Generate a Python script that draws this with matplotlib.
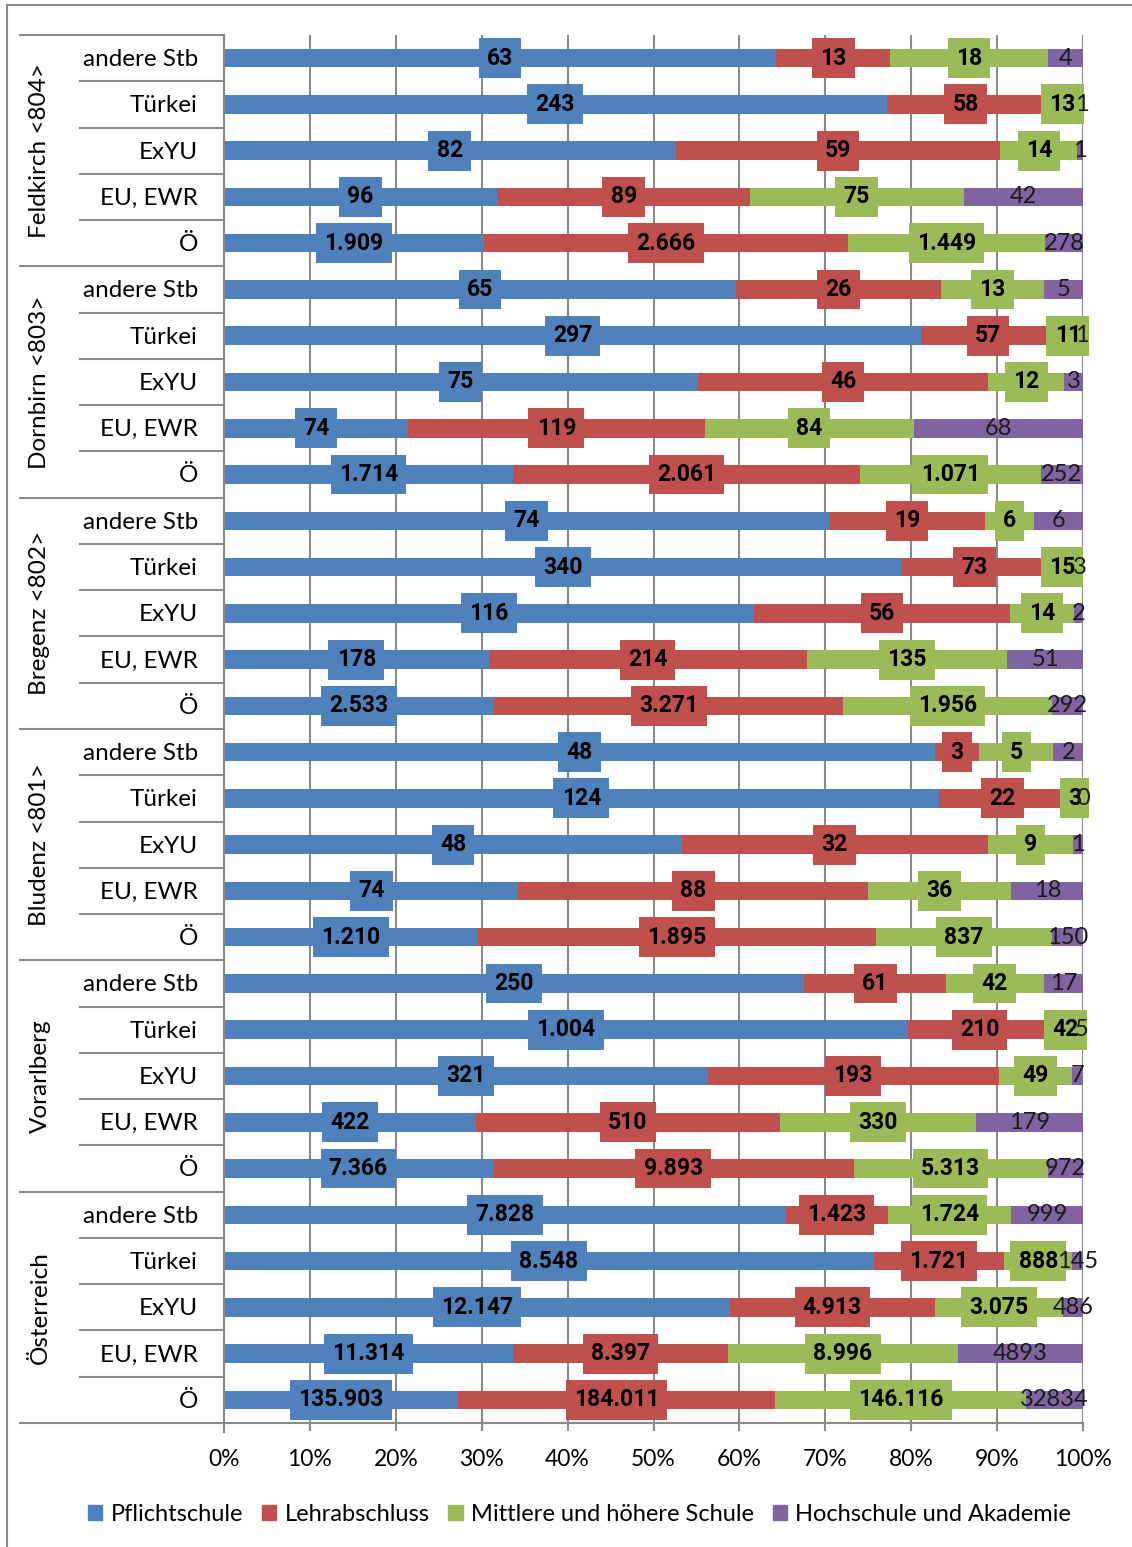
import numpy as np
import matplotlib.pyplot as plt
from matplotlib.patches import Patch, Rectangle
from matplotlib.path import Path

plt.rcParams['font.family'] = ['Lato', 'DejaVu Sans']

# Gruppen (Bezirke) und Herkunft je Zeile, von oben nach unten
bezirke = ['Feldkirch <804>', 'Dornbirn <803>', 'Bregenz <802>',
           'Bludenz <801>', 'Vorarlberg', 'Österreich']
herkunft = ['andere Stb', 'Türkei', 'ExYU', 'EU, EWR', 'Ö']

# Personen nach höchster abgeschlossener Ausbildung
pflichtschule = [63, 243, 82, 96, 1909,
                 65, 297, 75, 74, 1714,
                 74, 340, 116, 178, 2533,
                 48, 124, 48, 74, 1210,
                 250, 1004, 321, 422, 7366,
                 7828, 8548, 12147, 11314, 135903]
lehrabschluss = [13, 58, 59, 89, 2666,
                 26, 57, 46, 119, 2061,
                 19, 73, 56, 214, 3271,
                 3, 22, 32, 88, 1895,
                 61, 210, 193, 510, 9893,
                 1423, 1721, 4913, 8397, 184011]
mittlere_hoehere = [18, 13, 14, 75, 1449,
                    13, 11, 12, 84, 1071,
                    6, 15, 14, 135, 1956,
                    5, 3, 9, 36, 837,
                    42, 42, 49, 330, 5313,
                    1724, 888, 3075, 8996, 146116]
hochschule = [4, 1, 1, 42, 278,
              5, 1, 3, 68, 252,
              6, 3, 2, 51, 292,
              2, 0, 1, 18, 150,
              17, 5, 7, 179, 972,
              999, 145, 486, 4893, 32834]

serien = ['Pflichtschule', 'Lehrabschluss', 'Mittlere und höhere Schule',
          'Hochschule und Akademie']
farben = ['#4F81BD', '#C0504D', '#9BBB59', '#8064A2']
linie = '#8a8a8a'

werte = np.array([pflichtschule, lehrabschluss, mittlere_hoehere, hochschule],
                 dtype=float)
anteile = werte / werte.sum(axis=0)
n = werte.shape[1]
y = np.arange(n)


def label_box(x0, y0, width, height, mutation_size):
    # Kasten um das Datenlabel: feste Höhe, etwas seitlicher Rand
    px = 0.36 * mutation_size
    hh = 0.87 * mutation_size
    yc = y0 + height / 2
    return Path([(x0 - px, yc - hh), (x0 + width + px, yc - hh),
                 (x0 + width + px, yc + hh), (x0 - px, yc + hh),
                 (x0 - px, yc - hh)], closed=True)


fig = plt.figure(figsize=(11.32, 15.47), dpi=100)
ax = fig.add_axes([224 / 1132, 1 - 1423 / 1547, 859 / 1132, 1388 / 1547])

links = np.zeros(n)
for k in range(4):
    ax.barh(y, anteile[k], left=links, height=0.4, color=farben[k], zorder=2)
    for i in range(n):
        xc = links[i] + anteile[k, i] / 2
        v = int(werte[k, i])
        if k < 3:
            ax.text(xc, y[i], f'{v:,}'.replace(',', '.'), ha='center',
                    va='center', fontsize=16.5, fontweight='bold',
                    family=['Roboto', 'DejaVu Sans'], zorder=4,
                    bbox=dict(boxstyle=label_box, fc=farben[k], ec='none'))
        else:
            ax.text(xc, y[i], str(v), ha='center', va='center',
                    fontsize=17, color='#1a1a1a', zorder=5)
    links += anteile[k]

ax.set_xlim(0, 1)
ax.set_ylim(n - 0.5, -0.5)
ax.set_xticks(np.arange(0, 1.01, 0.1))
ax.set_xticklabels([f'{p}%' for p in range(0, 101, 10)], fontsize=16.5)
ax.set_yticks([])
ax.xaxis.grid(True, color=linie, lw=1.5)
ax.set_axisbelow(True)
ax.tick_params(axis='x', length=6, width=1.5, color=linie, pad=13)
for s in ['top', 'right', 'bottom']:
    ax.spines[s].set_visible(False)
ax.spines['left'].set_color(linie)
ax.spines['left'].set_linewidth(1.5)

# Beschriftung links: Herkunft und Bezirk, dazu die Trennlinien
tr = ax.get_yaxis_transform()
x_inner = -144 / 859
x_outer = -204 / 859
for i in range(n):
    ax.text(-26 / 859, y[i] + 0.03, herkunft[i % 5], transform=tr,
            ha='right', va='center', fontsize=17.5)
for g, name in enumerate(bezirke):
    ax.text(-184 / 859, g * 5 + 2, name, transform=tr, rotation=90,
            ha='center', va='center', fontsize=17.5)
for b in range(n + 1):
    x0 = x_outer if b % 5 == 0 else x_inner
    x1 = 1 if b == n else 0
    ax.plot([x0, x1], [b - 0.5, b - 0.5], transform=tr, color=linie,
            lw=1.5, clip_on=False, zorder=1)
ax.plot([0, 0], [n - 0.5, n - 0.3], transform=tr, color=linie, lw=1.5,
        clip_on=False)

# Rahmen um das ganze Diagramm
fig.patches.append(Rectangle((7 / 1132, -0.01), 1.0, 1 - 5 / 1547 + 0.01,
                             transform=fig.transFigure, fill=False,
                             ec=linie, lw=1.5))

handles = [Patch(color=c) for c in farben]
fig.legend(handles, serien, loc='center', bbox_to_anchor=(0.512, 0.021),
           ncol=4, frameon=False, fontsize=17, handlelength=0.6,
           handleheight=0.6, handletextpad=0.35, columnspacing=0.8)

fig.savefig('out.png', dpi=100)
